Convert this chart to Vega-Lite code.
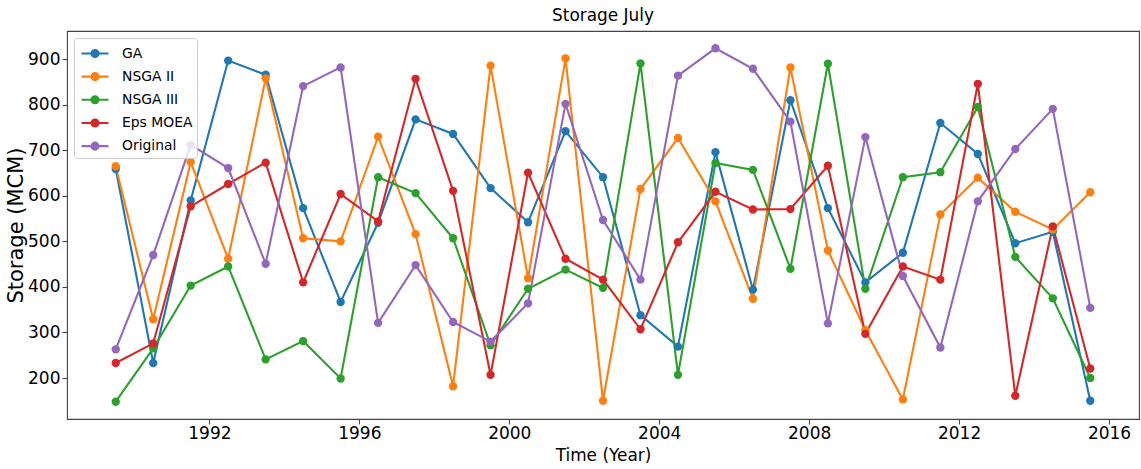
{
  "$schema": "https://vega.github.io/schema/vega-lite/v6.json",
  "width": 1072,
  "height": 388,
  "autosize": "none",
  "padding": {"left": 67, "top": 31, "right": 2, "bottom": 50},
  "title": {"text": "Storage July", "fontSize": 16.9, "font": "DejaVu Sans", "fontWeight": "normal", "offset": 6, "color": "#000000", "anchor": "middle"},
  "config": {
    "view": {"stroke": "#444444", "strokeWidth": 1.1},
    "font": "DejaVu Sans",
    "axis": {"grid": false, "domain": false, "tickColor": "#444444", "tickSize": 5, "tickWidth": 1.1, "labelFont": "DejaVu Sans", "labelFontSize": 17, "labelColor": "#000000", "titleFont": "DejaVu Sans", "titleFontWeight": "normal", "titleColor": "#000000"}
  },
  "data": {
    "values": [
      {"t":1989.5,"s":"GA","v":659},{"t":1990.5,"s":"GA","v":233},{"t":1991.5,"s":"GA","v":590},{"t":1992.5,"s":"GA","v":897},{"t":1993.5,"s":"GA","v":866},{"t":1994.5,"s":"GA","v":573},{"t":1995.5,"s":"GA","v":367},{"t":1996.5,"s":"GA","v":541},{"t":1997.5,"s":"GA","v":768},{"t":1998.5,"s":"GA","v":736},{"t":1999.5,"s":"GA","v":617},{"t":2000.5,"s":"GA","v":542},{"t":2001.5,"s":"GA","v":742},{"t":2002.5,"s":"GA","v":641},{"t":2003.5,"s":"GA","v":338},{"t":2004.5,"s":"GA","v":269},{"t":2005.5,"s":"GA","v":696},{"t":2006.5,"s":"GA","v":394},{"t":2007.5,"s":"GA","v":810},{"t":2008.5,"s":"GA","v":573},{"t":2009.5,"s":"GA","v":410},{"t":2010.5,"s":"GA","v":475},{"t":2011.5,"s":"GA","v":760},{"t":2012.5,"s":"GA","v":692},{"t":2013.5,"s":"GA","v":496},{"t":2014.5,"s":"GA","v":521},{"t":2015.5,"s":"GA","v":150},
      {"t":1989.5,"s":"NSGA II","v":665},{"t":1990.5,"s":"NSGA II","v":329},{"t":1991.5,"s":"NSGA II","v":674},{"t":1992.5,"s":"NSGA II","v":462},{"t":1993.5,"s":"NSGA II","v":858},{"t":1994.5,"s":"NSGA II","v":507},{"t":1995.5,"s":"NSGA II","v":500},{"t":1996.5,"s":"NSGA II","v":730},{"t":1997.5,"s":"NSGA II","v":516},{"t":1998.5,"s":"NSGA II","v":182},{"t":1999.5,"s":"NSGA II","v":886},{"t":2000.5,"s":"NSGA II","v":419},{"t":2001.5,"s":"NSGA II","v":902},{"t":2002.5,"s":"NSGA II","v":150},{"t":2003.5,"s":"NSGA II","v":615},{"t":2004.5,"s":"NSGA II","v":727},{"t":2005.5,"s":"NSGA II","v":588},{"t":2006.5,"s":"NSGA II","v":374},{"t":2007.5,"s":"NSGA II","v":882},{"t":2008.5,"s":"NSGA II","v":480},{"t":2009.5,"s":"NSGA II","v":305},{"t":2010.5,"s":"NSGA II","v":153},{"t":2011.5,"s":"NSGA II","v":559},{"t":2012.5,"s":"NSGA II","v":640},{"t":2013.5,"s":"NSGA II","v":565},{"t":2014.5,"s":"NSGA II","v":526},{"t":2015.5,"s":"NSGA II","v":608},
      {"t":1989.5,"s":"NSGA III","v":148},{"t":1990.5,"s":"NSGA III","v":265},{"t":1991.5,"s":"NSGA III","v":403},{"t":1992.5,"s":"NSGA III","v":445},{"t":1993.5,"s":"NSGA III","v":241},{"t":1994.5,"s":"NSGA III","v":281},{"t":1995.5,"s":"NSGA III","v":199},{"t":1996.5,"s":"NSGA III","v":641},{"t":1997.5,"s":"NSGA III","v":606},{"t":1998.5,"s":"NSGA III","v":507},{"t":1999.5,"s":"NSGA III","v":272},{"t":2000.5,"s":"NSGA III","v":396},{"t":2001.5,"s":"NSGA III","v":438},{"t":2002.5,"s":"NSGA III","v":398},{"t":2003.5,"s":"NSGA III","v":891},{"t":2004.5,"s":"NSGA III","v":207},{"t":2005.5,"s":"NSGA III","v":672},{"t":2006.5,"s":"NSGA III","v":657},{"t":2007.5,"s":"NSGA III","v":440},{"t":2008.5,"s":"NSGA III","v":890},{"t":2009.5,"s":"NSGA III","v":396},{"t":2010.5,"s":"NSGA III","v":641},{"t":2011.5,"s":"NSGA III","v":652},{"t":2012.5,"s":"NSGA III","v":795},{"t":2013.5,"s":"NSGA III","v":466},{"t":2014.5,"s":"NSGA III","v":375},{"t":2015.5,"s":"NSGA III","v":200},
      {"t":1989.5,"s":"Eps MOEA","v":233},{"t":1990.5,"s":"Eps MOEA","v":276},{"t":1991.5,"s":"Eps MOEA","v":577},{"t":1992.5,"s":"Eps MOEA","v":626},{"t":1993.5,"s":"Eps MOEA","v":673},{"t":1994.5,"s":"Eps MOEA","v":410},{"t":1995.5,"s":"Eps MOEA","v":604},{"t":1996.5,"s":"Eps MOEA","v":544},{"t":1997.5,"s":"Eps MOEA","v":857},{"t":1998.5,"s":"Eps MOEA","v":611},{"t":1999.5,"s":"Eps MOEA","v":207},{"t":2000.5,"s":"Eps MOEA","v":651},{"t":2001.5,"s":"Eps MOEA","v":462},{"t":2002.5,"s":"Eps MOEA","v":416},{"t":2003.5,"s":"Eps MOEA","v":307},{"t":2004.5,"s":"Eps MOEA","v":498},{"t":2005.5,"s":"Eps MOEA","v":609},{"t":2006.5,"s":"Eps MOEA","v":570},{"t":2007.5,"s":"Eps MOEA","v":571},{"t":2008.5,"s":"Eps MOEA","v":666},{"t":2009.5,"s":"Eps MOEA","v":297},{"t":2010.5,"s":"Eps MOEA","v":445},{"t":2011.5,"s":"Eps MOEA","v":416},{"t":2012.5,"s":"Eps MOEA","v":846},{"t":2013.5,"s":"Eps MOEA","v":161},{"t":2014.5,"s":"Eps MOEA","v":533},{"t":2015.5,"s":"Eps MOEA","v":221},
      {"t":1989.5,"s":"Original","v":263},{"t":1990.5,"s":"Original","v":470},{"t":1991.5,"s":"Original","v":712},{"t":1992.5,"s":"Original","v":661},{"t":1993.5,"s":"Original","v":451},{"t":1994.5,"s":"Original","v":841},{"t":1995.5,"s":"Original","v":882},{"t":1996.5,"s":"Original","v":321},{"t":1997.5,"s":"Original","v":448},{"t":1998.5,"s":"Original","v":323},{"t":1999.5,"s":"Original","v":280},{"t":2000.5,"s":"Original","v":364},{"t":2001.5,"s":"Original","v":802},{"t":2002.5,"s":"Original","v":547},{"t":2003.5,"s":"Original","v":416},{"t":2004.5,"s":"Original","v":864},{"t":2005.5,"s":"Original","v":924},{"t":2006.5,"s":"Original","v":879},{"t":2007.5,"s":"Original","v":763},{"t":2008.5,"s":"Original","v":320},{"t":2009.5,"s":"Original","v":729},{"t":2010.5,"s":"Original","v":424},{"t":2011.5,"s":"Original","v":267},{"t":2012.5,"s":"Original","v":588},{"t":2013.5,"s":"Original","v":703},{"t":2014.5,"s":"Original","v":791},{"t":2015.5,"s":"Original","v":354}
    ]
  },
  "encoding": {
    "x": {"field": "t", "type": "quantitative", "title": "Time (Year)",
      "scale": {"domain": [1988.2, 2016.8], "nice": false, "zero": false},
      "axis": {"values": [1992, 1996, 2000, 2004, 2008, 2012, 2016], "format": "d", "labelPadding": 1, "titleFontSize": 16.9, "titlePadding": 6}},
    "y": {"field": "v", "type": "quantitative", "title": "Storage (MCM)",
      "scale": {"domain": [110, 962], "nice": false, "zero": false},
      "axis": {"values": [200, 300, 400, 500, 600, 700, 800, 900], "labelPadding": 2, "titleFontSize": 21, "titlePadding": 1}},
    "color": {"field": "s", "type": "nominal",
      "scale": {"domain": ["GA", "NSGA II", "NSGA III", "Eps MOEA", "Original"], "range": ["#1f77b4", "#ff7f0e", "#2ca02c", "#d62728", "#9467bd"]},
      "legend": {"title": null, "orient": "top-left", "offset": 7, "padding": 4,
        "symbolType": "M-1.35,0L1.35,0M-0.35,0A0.35,0.35,0,1,0,0.35,0A0.35,0.35,0,1,0,-0.35,0Z",
        "symbolSize": 400, "symbolStrokeWidth": 2.1, "symbolOffset": 5.5,
        "labelFont": "DejaVu Sans", "labelFontSize": 13.9, "labelColor": "#000000", "labelOffset": 15.5,
        "rowPadding": 3.15, "strokeColor": "#cccccc", "fillColor": "rgba(255,255,255,0.8)", "cornerRadius": 3,
        "encode": {"symbols": {"update": {"fill": {"scale": "color", "field": "value"}, "stroke": {"scale": "color", "field": "value"}, "opacity": {"value": 1}}}}}
    }
  },
  "layer": [
    {"mark": {"type": "line", "strokeWidth": 2.1}},
    {"mark": {"type": "point", "shape": "circle", "filled": true, "size": 70, "opacity": 1}}
  ]
}
